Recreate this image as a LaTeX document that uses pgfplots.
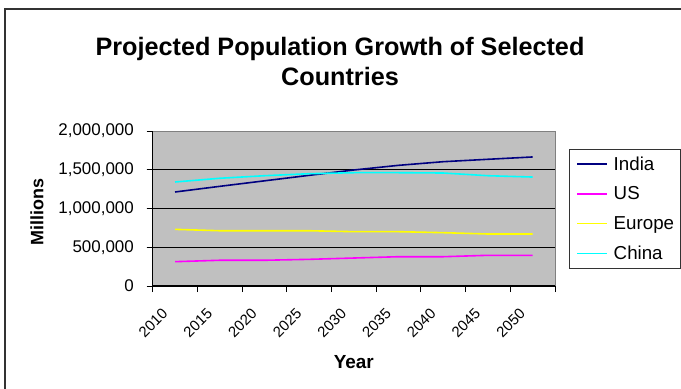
\documentclass[border=0pt]{standalone}
\usepackage{pgfplots}
\pgfplotsset{compat=1.18}
\usepackage{fontspec}
\setmainfont{Liberation Sans}
\definecolor{plotgray}{RGB}{192,192,192}
\definecolor{cIndia}{RGB}{0,0,128}
\definecolor{cUS}{RGB}{255,0,255}
\definecolor{cEurope}{RGB}{255,255,0}
\definecolor{cChina}{RGB}{0,255,255}
\newcommand{\rl}[1]{\rotatebox{45}{#1}}
\begin{document}
\begin{tikzpicture}[x=1bp,y=1bp]
\useasboundingbox (0,0) rectangle (681,388);
\draw[line width=1.5bp, black!80] (5,379) rectangle (740,-40);
\node[font=\bfseries\fontsize{25.3}{25.3}\selectfont, anchor=base] at (340,333) {Projected Population Growth of Selected};
\node[font=\bfseries\fontsize{25.3}{25.3}\selectfont, anchor=base] at (340,303) {Countries};
\begin{axis}[
  at={(152.7bp,102bp)}, anchor=south west,
  scale only axis, width=402.3bp, height=155bp,
  xmin=-0.5, xmax=8.5, ymin=0, ymax=2000000,
  axis x line*=bottom, axis y line*=left,
  x axis line style={-, black, line width=1.3bp},
  y axis line style={-, black, line width=1.3bp},
  axis background/.style={fill=plotgray, draw=gray, line width=1bp},
  tick align=outside,
  major tick length=6bp, minor tick length=6bp,
  tick style={black, line width=1bp},
  xtick={0,...,8},
  xticklabels={\rl{2010},\rl{2015},\rl{2020},\rl{2025},\rl{2030},\rl{2035},\rl{2040},\rl{2045},\rl{2050}},
  major x tick style={draw=none},
  minor xtick={-0.5,0.5,...,8.5},
  ytick={0,500000,1000000,1500000,2000000},
  extra y ticks={500000,1000000,1500000},
  extra y tick labels={},
  extra y tick style={grid=major, major grid style={black, line width=0.9bp}},
  scaled y ticks=false,
  /pgf/number format/assume math mode=true,
  /pgf/number format/fixed,
  /pgf/number format/precision=0,
  /pgf/number format/1000 sep={,},
  yticklabel style={font=\fontsize{17}{17}\selectfont, anchor=east, inner sep=0pt, xshift=-12.7bp},
  xticklabel style={font=\fontsize{15}{15}\selectfont, anchor=north, inner sep=0pt, xshift=-22bp, yshift=-15.3bp},
  xlabel={Year},
  xlabel style={font=\bfseries\fontsize{19}{19}\selectfont, at={(axis description cs:0.5,-0.529)}, anchor=base},
  ylabel={Millions},
  ylabel style={font=\bfseries\fontsize{18}{18}\selectfont, at={(axis description cs:-0.2876,0.477)}, anchor=center, rotate=0},
  legend cell align=left,
  legend image code/.code={\draw[#1] (0bp,0bp) -- (30bp,0bp);},
  legend style={at={(axis description cs:1.0356,0.8839)}, anchor=north west,
    draw=black!80, line width=0.8bp, fill=white,
    font=\fontsize{18.8}{18.8}\selectfont,
    inner xsep=6.7bp, inner ysep=6.65bp, row sep=13.8bp,
    nodes={inner sep=0pt, text height=14bp, text depth=2bp},
    /tikz/every odd column/.append style={column sep=5.7bp}},
  every axis plot/.append style={line width=1.6bp, mark=none, sharp plot},
]
\addplot[cIndia] coordinates {(0,1213000) (1,1286000) (2,1357000) (3,1428000) (4,1497000) (5,1557000) (6,1604000) (7,1635000) (8,1665000)};
\addlegendentry{India}
\addplot[cUS] coordinates {(0,314000) (1,332000) (2,332000) (3,344000) (4,361000) (5,378000) (6,378000) (7,396000) (8,396000)};
\addlegendentry{US}
\addplot[cEurope] coordinates {(0,731000) (1,713000) (2,713000) (3,713000) (4,701000) (5,701000) (6,688000) (7,671000) (8,671000)};
\addlegendentry{Europe}
\addplot[cChina] coordinates {(0,1342000) (1,1390000) (2,1423000) (3,1449000) (4,1462000) (5,1462000) (6,1458000) (7,1423000) (8,1406000)};
\addlegendentry{China}
\end{axis}
\end{tikzpicture}
\end{document}
